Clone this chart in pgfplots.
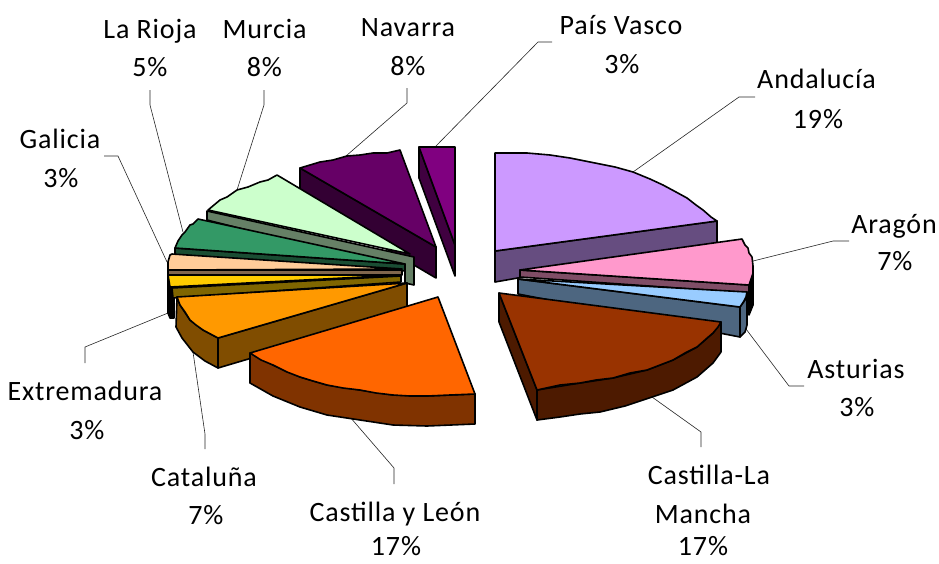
\documentclass[border=0pt]{standalone}
\usepackage{pgfplots}
\pgfplotsset{compat=1.18}
\usepackage{fontspec}
\setmainfont{Carlito}
\newfontfamily\labf[LetterSpace=3]{Carlito}
\definecolor{aF}{HTML}{CC99FF}\definecolor{aS}{HTML}{664D80}
\definecolor{bF}{HTML}{FF99CC}\definecolor{bS}{HTML}{804D66}
\definecolor{cF}{HTML}{99CCFF}\definecolor{cS}{HTML}{4D6680}
\definecolor{dF}{HTML}{993300}\definecolor{dS}{HTML}{4D1A00}
\definecolor{eF}{HTML}{FF6600}\definecolor{eS}{HTML}{803300}
\definecolor{fF}{HTML}{FF9900}\definecolor{fS}{HTML}{804D00}
\definecolor{gF}{HTML}{FFCC00}\definecolor{gS}{HTML}{806600}
\definecolor{hF}{HTML}{FFCC99}\definecolor{hS}{HTML}{80664D}
\definecolor{iF}{HTML}{339966}\definecolor{iS}{HTML}{1A4D33}
\definecolor{jF}{HTML}{CCFFCC}\definecolor{jS}{HTML}{668066}
\definecolor{kF}{HTML}{660066}\definecolor{kS}{HTML}{330033}
\definecolor{lF}{HTML}{800080}\definecolor{lS}{HTML}{400040}
\newcommand{\poly}[2]{\addplot[fill=#1,draw=black,line width=1.6pt,line join=round] coordinates {#2} --cycle;}
\newcommand{\lead}[1]{\addplot[draw=black!85,line width=0.6pt] coordinates {#1};}
\newcommand{\lab}[3]{\node[anchor=base,inner sep=0pt,font=\labf\fontsize{28}{28}\selectfont] at (axis cs:#1,#2) {#3};}
\begin{document}
\begin{tikzpicture}
\begin{axis}[hide axis,scale only axis,width=939pt,height=563pt,xmin=0,xmax=939,ymin=0,ymax=563,y dir=reverse,clip=true]
\addplot[draw=none] coordinates {(0,0)(939,563)};
% leaders
\lead{(150,90)(150,105)(183,232)}
\lead{(264,90)(264,105)(237,190)}
\lead{(407,88)(407,103)(346,156)}
\lead{(104,156)(118,156)(167,262)}
\lead{(552,42)(538,42)(435,147)}
\lead{(755,97)(739,97)(633,172)}
\lead{(849,241)(833,241)(753,261)}
\lead{(168,313)(85,347)(85,363)}
\lead{(193,352)(205,434)(205,449)}
\lead{(350,417)(394,468)(394,484)}
\lead{(746,329)(789,386)(804,386)}
\lead{(652,397)(701,432)(701,447)}
% Andalucia
\poly{aS}{(495,251)(717,221)(717,243)(495,282)}
\poly{aF}{(495,153)(527,153)(550,155)(570,158)(595,163)(615,167)(633,172)(650,179)(663,185)(676,192)(687,198)(696,205)(703,210)(711,217)(717,221)(495,251)}
% Aragon
\poly{black}{(753,273)(753,305)(749,315)(749,285)}
\poly{bS}{(520,270)(749,285)(749,293)(520,277)}
\poly{bF}{(520,270)(742,239)(745,245)(748,248)(749,253)(752,257)(753,266)(753,273)(749,285)}
% Asturias
\poly{cS}{(740,307)(745,300)(747,292)(747,325)(745,332)(740,337)}
\poly{cS}{(518,279)(740,307)(740,337)(518,294)}
\poly{cF}{(518,279)(747,292)(746,297)(744,301)(740,307)}
% Castilla-La Mancha
\poly{dS}{(499,293)(537,390)(537,420)(499,322)}
\poly{dS}{(537,390)(580,383)(613,378)(647,370)(673,360)(697,347)(713,333)(721,322)(721,352)(713,363)(697,377)(673,390)(652,397)(625,406)(600,412)(580,414)(560,417)(537,420)}
\poly{dF}{(499,293)(721,322)(718,327)(713,333)(706,339)(697,347)(685,353)(673,360)(660,365)(647,370)(630,373)(613,378)(596,380)(580,383)(560,385)(537,390)}
% Pais Vasco
\poly{lS}{(419,147)(455,245)(455,276)(419,178)}
\poly{lF}{(419,147)(455,147)(455,245)}
% Navarra
\poly{kS}{(300,168)(436,247)(436,278)(300,198)}
\poly{kF}{(436,247)(400,150)(387,153)(373,153)(360,155)(347,156)(333,160)(320,162)(310,165)(300,168)}
% Murcia
\poly{jS}{(207,211)(414,257)(414,285)(405,283)(405,270)(207,220)}
\poly{jF}{(410,254)(277,175)(268,180)(260,182)(248,187)(237,190)(227,197)(220,200)(214,205)(208,210)}
% La Rioja
\poly{iS}{(175,248)(405,264)(405,271)(175,255)}
\poly{iF}{(405,264)(198,219)(193,224)(190,225)(185,232)(182,235)(178,241)(175,248)}
% Galicia
\poly{hS}{(168,270)(402,270)(402,275)(168,275)}
\poly{hF}{(402,269)(172,254)(170,255)(168,262)(168,270)}
% Extremadura
\poly{black}{(168,275)(168,313)(170,318)(174,318)(174,288)}
\poly{gS}{(172,288)(401,276)(401,282)(173,298)}
\poly{gF}{(401,275)(168,275)(170,287)}
% Cataluna
\poly{fS}{(177,297)(176,327)(182,338)(193,352)(205,361)(218,368)(218,338)(203,330)(190,320)(180,305)}
\poly{fS}{(218,338)(407,283)(407,312)(218,368)}
\poly{fF}{(407,283)(177,297)(180,305)(185,312)(190,320)(196,325)(203,330)(218,338)}
% Castilla y Leon
\poly{eS}{(250,353)(273,365)(300,377)(327,385)(360,390)(393,395)(427,396)(475,394)(475,424)(427,426)(393,425)(360,420)(327,415)(300,407)(273,396)(250,383)}
\poly{eF}{(438,297)(250,353)(261,360)(273,365)(287,372)(300,377)(313,381)(327,385)(343,388)(360,390)(376,393)(393,395)(410,396)(427,396)(450,395)(475,394)}
% labels
\lab{150}{38}{La Rioja}\lab{150}{76}{5\%}
\lab{264.5}{38}{Murcia}\lab{264.5}{76}{8\%}
\lab{408}{36}{Navarra}\lab{408}{75}{8\%}
\lab{60}{148}{Galicia}\lab{61}{187}{3\%}
\lab{621}{34}{País Vasco}\lab{622}{73}{3\%}
\lab{816.5}{88}{Andalucía}\lab{818}{128}{19\%}
\lab{894}{233}{Aragón}\lab{895}{270}{7\%}
\lab{856}{378}{Asturias}\lab{857}{416}{3\%}
\lab{709}{484}{Castilla-La}\lab{703}{523}{Mancha}\lab{703}{555}{17\%}
\lab{85}{400}{Extremadura}\lab{87}{439}{3\%}
\lab{204}{486}{Cataluña}\lab{206}{524}{7\%}
\lab{395}{521}{Castilla y León}\lab{396}{555}{17\%}
\end{axis}
\end{tikzpicture}
\end{document}
